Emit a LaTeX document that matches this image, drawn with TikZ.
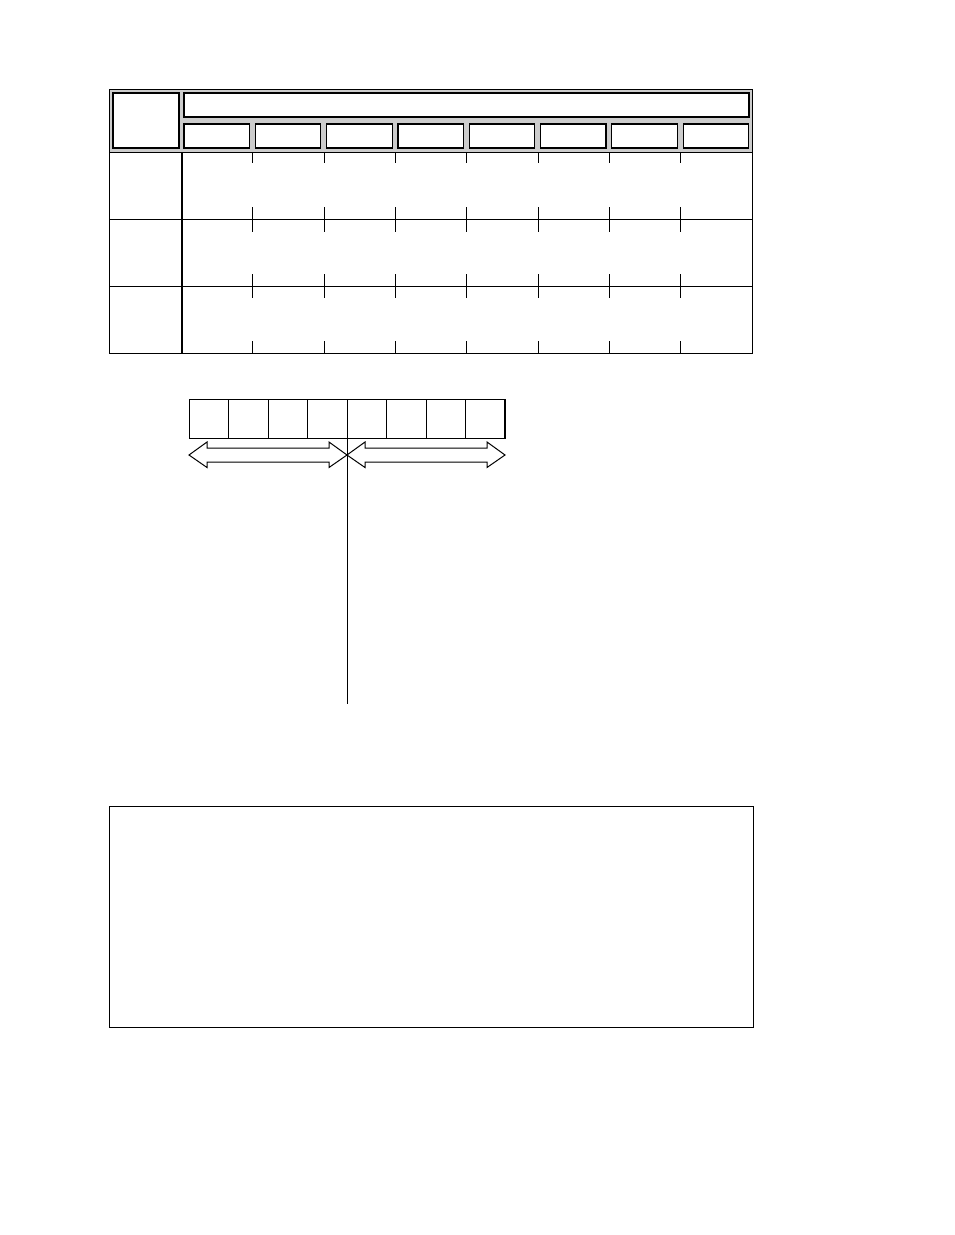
\documentclass[tikz,border=0pt]{standalone}
\usepackage{tikz}
\usetikzlibrary{shapes, arrows, positioning, calc}

\begin{document}
\begin{tikzpicture}[
			x=1pt,y=-1pt,
			line width=1pt,
			hatch/.style={fill=gray!40},
			headbox/.style={draw,fill=white,line width=1.2pt},
			thickline/.style={line width=2pt},
			hollow/.style={draw,fill=white,line width=1pt,line join=miter}
		]
		\useasboundingbox (0,0) rectangle (954,1235);
		% header band
		\fill[hatch] (109,89) rectangle (752,152);
		\draw[headbox] (113,93) rectangle (179,148);
		\draw[headbox] (184,93) rectangle (749,117);
		\foreach \i in {0,...,7}
			\draw[headbox] ({184+71.3*\i},124) rectangle ++(65.5,24);
		% table body
		\draw (109,89) rectangle (752,353);
		\foreach \y in {152,219,286}
			\draw (109,\y) -- (752,\y);
		\draw[thickline] (182,152) -- (182,353);
		\foreach \i in {1,...,7} {
			\draw ({184+71.3*\i-2.5},152) -- ++(0,11);
			\draw ({184+71.3*\i-2.5},207) -- ++(0,25);
			\draw ({184+71.3*\i-2.5},274) -- ++(0,24);
			\draw ({184+71.3*\i-2.5},341) -- ++(0,12);
		}
		% row of eight cells
		\draw (189,399) rectangle (505,438);
		\foreach \i in {1,...,7}
			\draw ({189+39.5*\i},399) -- ++(0,39);
		\draw[thickline] (505,399) -- (505,438);
		\coordinate (mid) at (347,438);
		\coordinate (foot) at (347,704);
		\draw (mid) -- (foot);
		% hollow double arrows
		\foreach \a in {189,347}
			\draw[hollow] (\a,455) -- ++(18,-13) -- ++(0,6) -- ++(122,0) -- ++(0,-6)
				-- ++(18,13) -- ++(-18,12.5) -- ++(0,-5.5) -- ++(-122,0) -- ++(0,5.5) -- cycle;
		% lower box
		\draw (109,806) rectangle (753,1027);
	\end{tikzpicture}
\end{document}
